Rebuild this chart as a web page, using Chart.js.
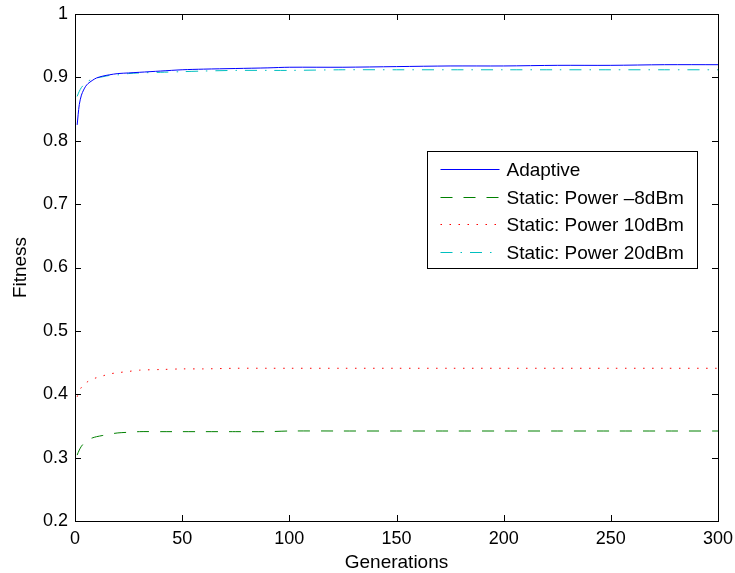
<!DOCTYPE html>
<html>
<head>
<meta charset="utf-8">
<script src="https://cdn.jsdelivr.net/npm/chart.js@4/dist/chart.umd.min.js"></script>
<style>
  html, body { margin: 0; padding: 0; background: #fff; }
  #wrap { width: 735px; height: 573px; }
</style>
</head>
<body>
<div id="wrap"><canvas id="fitnessChart" width="735" height="573"></canvas></div>
<script>
// generations sampled from the plot
const generations = [1, 2, 3, 4, 5, 6, 8, 10, 13, 16, 20, 25, 30, 40, 50, 60, 75, 90, 100, 125, 150, 175, 200, 225, 250, 275, 300];

const adaptive = [0.825, 0.857, 0.872, 0.880, 0.886, 0.890, 0.895, 0.899, 0.902, 0.904, 0.906, 0.907, 0.908, 0.910, 0.912, 0.913, 0.914, 0.915, 0.916, 0.916, 0.917, 0.918, 0.918, 0.919, 0.919, 0.920, 0.920];
const powerM8 = [0.304, 0.312, 0.318, 0.322, 0.325, 0.328, 0.331, 0.333, 0.335, 0.337, 0.339, 0.340, 0.341, 0.341, 0.341, 0.341, 0.341, 0.341, 0.342, 0.342, 0.342, 0.342, 0.342, 0.342, 0.342, 0.342, 0.342];
const power10 = [0.396, 0.405, 0.411, 0.415, 0.418, 0.420, 0.424, 0.426, 0.429, 0.432, 0.434, 0.436, 0.438, 0.439, 0.440, 0.440, 0.441, 0.441, 0.441, 0.441, 0.441, 0.441, 0.441, 0.441, 0.441, 0.441, 0.441];
const power20 = [0.870, 0.878, 0.884, 0.888, 0.891, 0.894, 0.897, 0.899, 0.901, 0.903, 0.904, 0.906, 0.907, 0.908, 0.909, 0.910, 0.911, 0.911, 0.911, 0.912, 0.912, 0.912, 0.912, 0.912, 0.912, 0.912, 0.912];

const seriesLabels = ["Adaptive", "Static: Power \u20138dBm", "Static: Power 10dBm", "Static: Power 20dBm"];
const xTicks = [0, 50, 100, 150, 200, 250, 300];
const yTicks = [0.2, 0.3, 0.4, 0.5, 0.6, 0.7, 0.8, 0.9, 1];

const FONT = "'Liberation Sans', Arial, Helvetica, sans-serif";

function toPoints(values) {
    return generations.map((g, i) => ({ x: g, y: values[i] }));
}

// box, inward ticks and legend like matlab
const matlabFrame = {
    id: "matlabFrame",
    afterDraw(chart) {
        const ctx = chart.ctx;
        const area = chart.chartArea;
        const xs = chart.scales.x;
        const ys = chart.scales.y;
        ctx.save();
        ctx.strokeStyle = "#000";
        ctx.lineWidth = 1;
        ctx.setLineDash([]);
        ctx.strokeRect(Math.round(area.left) + 0.5, Math.round(area.top) + 0.5,
            Math.round(area.right - area.left), Math.round(area.bottom - area.top));
        const tl = 6;
        ctx.beginPath();
        xTicks.forEach((v) => {
            const px = Math.round(xs.getPixelForValue(v)) + 0.5;
            ctx.moveTo(px, area.bottom); ctx.lineTo(px, area.bottom - tl);
            ctx.moveTo(px, area.top); ctx.lineTo(px, area.top + tl);
        });
        yTicks.forEach((v) => {
            const py = Math.round(ys.getPixelForValue(v)) + 0.5;
            ctx.moveTo(area.left, py); ctx.lineTo(area.left + tl, py);
            ctx.moveTo(area.right, py); ctx.lineTo(area.right - tl, py);
        });
        ctx.stroke();

        // legend
        const boxW = 270, boxH = 117;
        const bx = Math.round(area.right - 21 - boxW) + 0.5;
        const by = Math.round(area.top + 137) + 0.5;
        ctx.fillStyle = "#fff";
        ctx.fillRect(bx, by, boxW, boxH);
        ctx.strokeStyle = "#000";
        ctx.strokeRect(bx, by, boxW, boxH);
        ctx.font = "19px " + FONT;
        ctx.textBaseline = "middle";
        chart.data.datasets.forEach((ds, i) => {
            const rowY = Math.round(by + 17.5 + i * 27.7) + 0.5;
            ctx.beginPath();
            ctx.strokeStyle = ds.borderColor;
            ctx.lineWidth = ds.borderWidth;
            ctx.setLineDash(ds.borderDash || []);
            ctx.moveTo(bx + 13, rowY);
            ctx.lineTo(bx + 72, rowY);
            ctx.stroke();
            ctx.setLineDash([]);
            ctx.fillStyle = "#000";
            ctx.fillText(ds.label, bx + 79, rowY + 1);
        });
        ctx.restore();
    },
};

new Chart(document.getElementById("fitnessChart"), {
    type: "line",
    data: {
        datasets: [
            {
                label: seriesLabels[0],
                data: toPoints(adaptive),
                borderColor: "#0000ff",
                borderWidth: 1,
                pointRadius: 0,
                tension: 0.3,
            },
            {
                label: seriesLabels[1],
                data: toPoints(powerM8),
                borderColor: "#008000",
                borderWidth: 1,
                borderDash: [12, 11],
                pointRadius: 0,
                tension: 0.3,
            },
            {
                label: seriesLabels[2],
                data: toPoints(power10),
                borderColor: "#ff0000",
                borderWidth: 1,
                borderDash: [1.5, 7.5],
                pointRadius: 0,
                tension: 0.3,
            },
            {
                label: seriesLabels[3],
                data: toPoints(power20),
                borderColor: "#00bfbf",
                borderWidth: 1,
                borderDash: [12, 8, 1.5, 8],
                pointRadius: 0,
                tension: 0.3,
            },
        ],
    },
    options: {
        responsive: false,
        animation: false,
        layout: {
            padding: { top: 14, right: 17, left: 0, bottom: 0 },
        },
        scales: {
            x: {
                type: "linear",
                min: 0,
                max: 300,
                afterBuildTicks: (scale) => { scale.ticks = xTicks.map((v) => ({ value: v })); },
                afterFit: (scale) => {
                    scale.height = 52;
                    scale.paddingLeft = 0;
                    scale.paddingRight = 0;
                },
                grid: { display: false, drawTicks: false },
                border: { display: false },
                ticks: { color: "#000", font: { family: FONT, size: 18 }, padding: 7, maxRotation: 0 },
                title: {
                    display: true,
                    text: "Generations",
                    color: "#000",
                    font: { family: FONT, size: 19 },
                    padding: { top: 0, bottom: -1 },
                },
            },
            y: {
                type: "linear",
                min: 0.2,
                max: 1,
                afterBuildTicks: (scale) => { scale.ticks = yTicks.map((v) => ({ value: v })); },
                afterFit: (scale) => {
                    scale.width = 75;
                    scale.paddingTop = 0;
                    scale.paddingBottom = 0;
                },
                grid: { display: false, drawTicks: false },
                border: { display: false },
                ticks: {
                    color: "#000",
                    font: { family: FONT, size: 18 },
                    padding: 7,
                    callback: (v) => String(Math.round(v * 10) / 10),
                },
                title: {
                    display: true,
                    text: "Fitness",
                    color: "#000",
                    font: { family: FONT, size: 19 },
                    padding: { top: 9, bottom: 0 },
                },
            },
        },
        plugins: {
            legend: { display: false },
            tooltip: { enabled: false },
        },
    },
    plugins: [matlabFrame],
});
</script>
</body>
</html>
